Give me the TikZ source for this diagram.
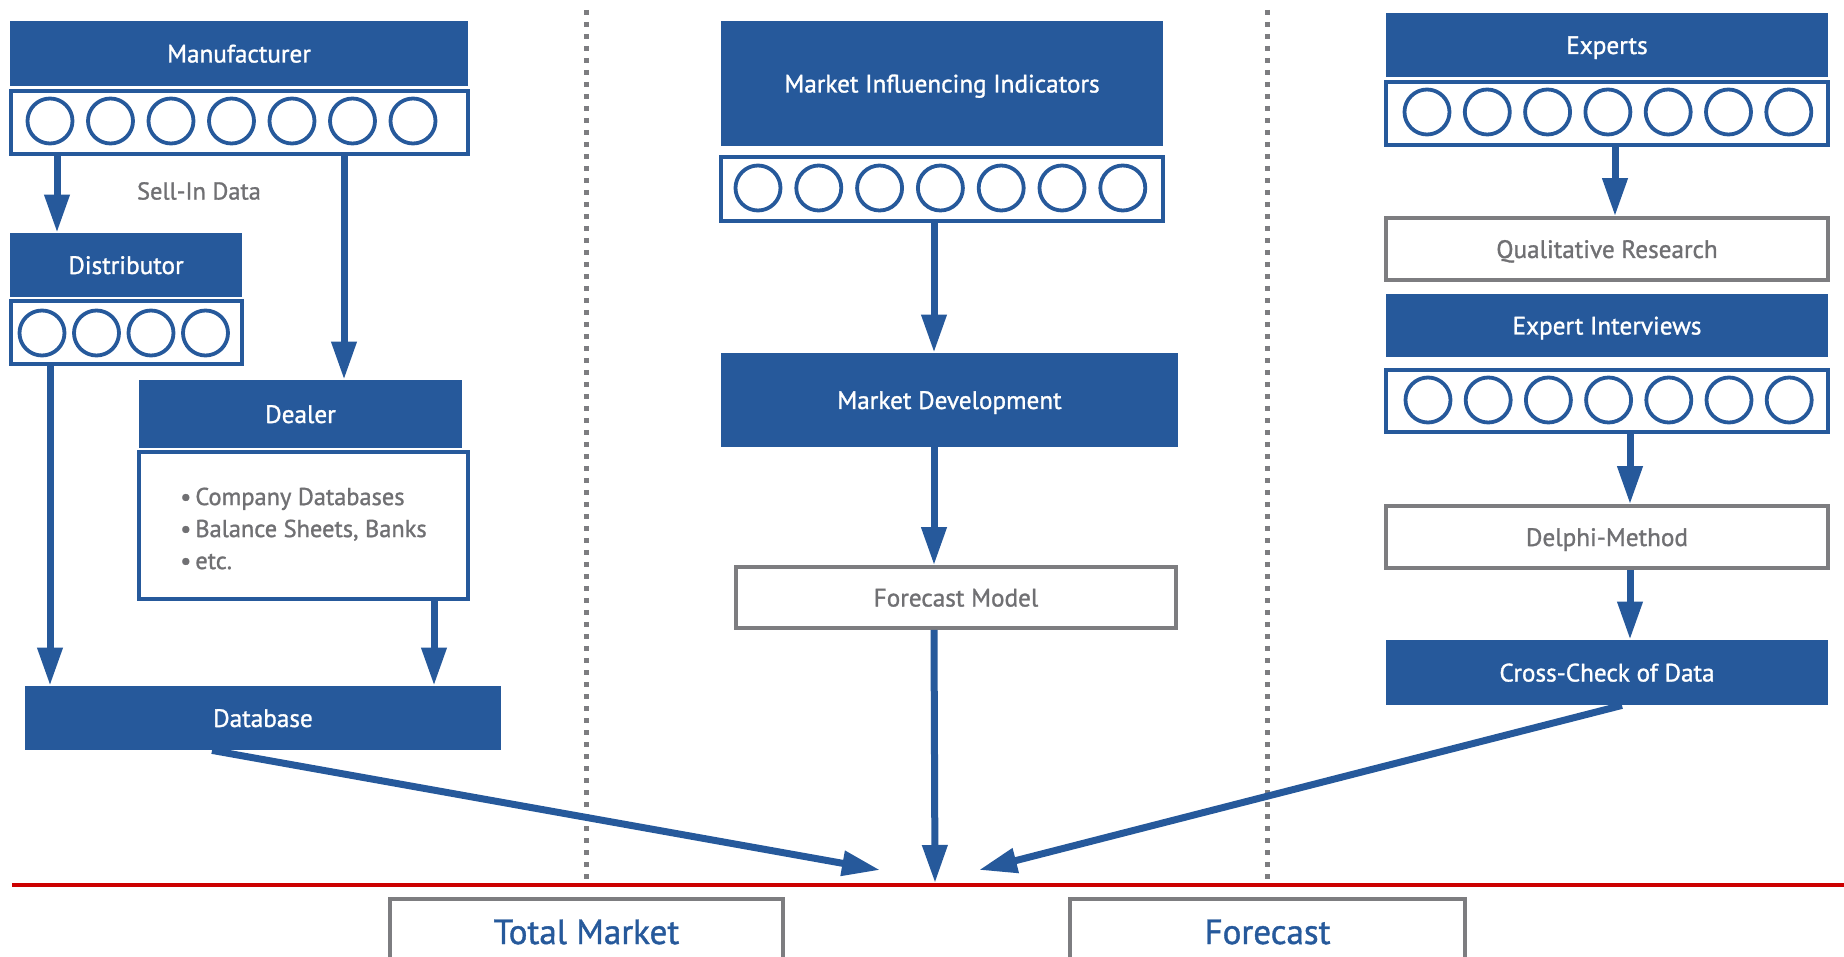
\documentclass[tikz,border=0pt]{standalone}
\usepackage{fontspec}
\setmainfont{PT Sans}[FakeBold=1.2]
\usetikzlibrary{arrows.meta}
\definecolor{boxblue}{RGB}{38,89,155}
\definecolor{linegray}{RGB}{125,125,128}
\definecolor{textgray}{RGB}{112,112,115}
\definecolor{basered}{RGB}{204,0,0}
\begin{document}
\begin{tikzpicture}[x=0.5pt,y=-0.5pt,
  head/.style={fill=boxblue,text=white,inner sep=0pt,text height=9pt,text depth=0pt,font=\fontsize{12.6}{14}\selectfont},
  rowbox/.style={draw=boxblue,line width=1.6pt,fill=white,inner sep=0pt},
  ring/.style={circle,draw=boxblue,line width=1.9pt,minimum size=22.5pt,inner sep=0pt},
  plain/.style={draw=linegray,line width=1.8pt,text=textgray,inner sep=0pt,text height=9pt,text depth=0pt,font=\fontsize{12.6}{14}\selectfont},
  flow/.style={draw=boxblue,line width=3.5pt,-{Triangle[width=12pt,length=19pt]}},
  divider/.style={draw=linegray,line width=2.5pt,dash pattern=on 2.3pt off 3.7pt}]
\useasboundingbox (0,0) rectangle (1844,957);
% separators and base line
\draw[divider] (586,10) -- (586,885);
\draw[divider] (1267,10) -- (1267,885);
\draw[basered,line width=2pt] (12,885) -- (1844,885);
\coordinate (tipL) at (880,870);
\coordinate (tipM) at (935,883);
\coordinate (tipR) at (979,870);
% sell-in side
\node[head,minimum width=229pt,minimum height=32.5pt] (manu) at (239,53.5) {Manufacturer};
\node[rowbox,minimum width=228.5pt,minimum height=31.5pt] (manurow) at (239.5,122.5) {};
\foreach \i in {0,...,6} \node[ring] (manu\i) at ({50+60.5*\i},121) {};
\node[text=textgray,font=\fontsize{12.2}{14}\selectfont] (sellin) at (199,191) {Sell-In Data};
\node[head,minimum width=116pt,minimum height=32pt] (distr) at (126,265) {Distributor};
\node[rowbox,minimum width=115.5pt,minimum height=31.5pt] (distrrow) at (126.5,332.5) {};
\foreach \i in {0,...,3} \node[ring] (distr\i) at ({42+54.5*\i},333) {};
\node[head,minimum width=161.5pt,minimum height=34pt] (dealer) at (300.5,414) {Dealer};
\node[rowbox,text=textgray,align=left,minimum width=164.5pt,minimum height=73.5pt,font=\fontsize{12.2}{16}\selectfont] (dealerinfo) at (303.5,525.5)
  {\rule{0pt}{14pt}\textbullet\,Company Databases\\ \textbullet\,Balance Sheets, Banks\\ \textbullet\,etc.\vphantom{p}};
\node[head,minimum width=238pt,minimum height=32pt] (db) at (263,718) {Database};
% indicators
\node[head,minimum width=221pt,minimum height=62.5pt] (mii) at (942,83.5) {Market Influencing Indicators};
\node[rowbox,minimum width=221pt,minimum height=32pt] (miirow) at (942,189) {};
\foreach \i in {0,...,6} \node[ring] (mii\i) at ({758+60.8*\i},188) {};
\node[head,minimum width=228.5pt,minimum height=47pt] (mdev) at (949.5,400) {Market Development};
\node[plain,minimum width=220pt,minimum height=30.5pt] (fmodel) at (956,597.5) {Forecast Model};
% experts
\node[head,minimum width=221pt,minimum height=32pt] (experts) at (1607,45) {Experts};
\node[rowbox,minimum width=221pt,minimum height=31.5pt] (exprow) at (1607,113.5) {};
\foreach \i in {0,...,6} \node[ring] (exp\i) at ({1427+60.3*\i},112) {};
\node[plain,minimum width=221pt,minimum height=31pt] (qual) at (1607,249) {Qualitative Research};
\node[head,minimum width=221pt,minimum height=31.5pt] (interv) at (1607,325.5) {Expert Interviews};
\node[rowbox,minimum width=221pt,minimum height=31pt] (introw) at (1607,401) {};
\foreach \i in {0,...,6} \node[ring] (int\i) at ({1428+60.2*\i},400) {};
\node[plain,minimum width=221pt,minimum height=31pt] (delphi) at (1607,537) {Delphi-Method};
\node[head,minimum width=221pt,minimum height=32.5pt] (cross) at (1607,672.5) {Cross-Check of Data};
% results
\node[plain,text=boxblue,minimum width=196.5pt,minimum height=33pt,text height=12pt,font=\fontsize{17.5}{20}\selectfont] (total) at (586.5,932) {Total Market};
\node[plain,text=boxblue,minimum width=197.5pt,minimum height=33pt,text height=12pt,font=\fontsize{17.5}{20}\selectfont] (forecast) at (1267.5,932) {Forecast};
% arrows
\draw[flow] (57,0 |- manurow.south) -- (57,0 |- distr.north);
\draw[flow] (344,0 |- manurow.south) -- (344,0 |- dealer.north);
\draw[flow] (50,0 |- distrrow.south) -- (50,0 |- db.north);
\draw[flow] (434,0 |- dealerinfo.south) -- (434,0 |- db.north);
\draw[flow] (934,0 |- miirow.south) -- (934,0 |- mdev.north);
\draw[flow] (934,0 |- mdev.south) -- (934,0 |- fmodel.north);
\draw[flow] (934,0 |- fmodel.south) -- (tipM);
\draw[flow] (1615,0 |- exprow.south) -- (1615,0 |- qual.north);
\draw[flow] (1630,0 |- introw.south) -- (1630,0 |- delphi.north);
\draw[flow] (1630,0 |- delphi.south) -- (1630,0 |- cross.north);
\draw[flow] (212,0 |- db.south) -- (tipL);
\draw[flow] (1622,0 |- cross.south) -- (tipR);
\end{tikzpicture}
\end{document}
